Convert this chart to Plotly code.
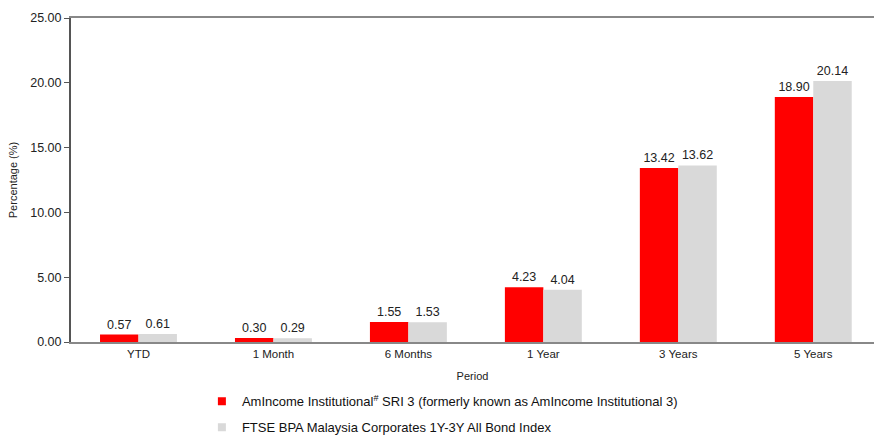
import plotly.graph_objects as go

categories = ["YTD", "1 Month", "6 Months", "1 Year", "3 Years", "5 Years"]
fund_values = [0.57, 0.30, 1.55, 4.23, 13.42, 18.90]
index_values = [0.61, 0.29, 1.53, 4.04, 13.62, 20.14]
fund_name = "AmIncome Institutional<sup>#</sup> SRI 3 (formerly known as AmIncome Institutional 3)"
index_name = "FTSE BPA Malaysia Corporates 1Y-3Y All Bond Index"
y_ticks = [0, 5, 10, 15, 20, 25]
fund_color = "#ff0000"
index_color = "#d9d9d9"

font_family = "Liberation Sans, Arial, sans-serif"

fig = go.Figure()
for vals, col, grp in [(fund_values, fund_color, "a"), (index_values, index_color, "b")]:
    fig.add_trace(go.Bar(
        x=categories, y=vals, showlegend=False,
        marker=dict(color=col, line=dict(width=0)),
        text=[f"{v:.2f}" for v in vals], textposition="outside",
        textfont=dict(size=12.5, color="#222222", family=font_family),
        cliponaxis=False, legendgroup=grp,
    ))
# legend entries (small square keys as in the reference)
for name, col, grp in [(fund_name, fund_color, "a"), (index_name, index_color, "b")]:
    fig.add_trace(go.Scatter(
        x=[None], y=[None], mode="markers", name=name,
        marker=dict(symbol="square", size=8, color=col),
        legendgroup=grp, showlegend=True,
    ))

fig.update_layout(
    width=874, height=435,
    margin=dict(l=71, r=0, t=18, b=93),
    paper_bgcolor="white", plot_bgcolor="white",
    font=dict(family=font_family, size=12, color="#222222"),
    barmode="group", bargap=0.43, bargroupgap=0,
    showlegend=True,
    legend=dict(
        orientation="v", x=0.163, xanchor="left",
        yref="container", y=0.112, yanchor="top",
        font=dict(size=13, color="#111111"), traceorder="grouped",
        tracegroupgap=6, itemwidth=30, bgcolor="rgba(0,0,0,0)",
    ),
    xaxis=dict(
        type="category", range=[-0.5, 5.45], automargin=False,
        showline=True, linecolor="#888888", linewidth=2, mirror=True,
        ticks="", showgrid=False, zeroline=False,
        tickfont=dict(size=11.5, color="#222222"),
        title=dict(text="Period", font=dict(size=11, color="#222222"), standoff=14),
    ),
    yaxis=dict(
        range=[0, 25], tickvals=y_ticks, tickformat=".2f", automargin=False,
        showline=True, linecolor="#555555", linewidth=2,
        ticks="outside", ticklen=5, tickcolor="#555555",
        showgrid=False, zeroline=False,
        tickfont=dict(size=12.5, color="#222222"),
        title=dict(text="Percentage (%)", font=dict(size=11, color="#222222"), standoff=10),
    ),
)

fig.write_html(
    "out.html",
    config={"displayModeBar": False},
    post_script="document.body.style.margin='0';document.body.style.overflow='hidden';",
)
